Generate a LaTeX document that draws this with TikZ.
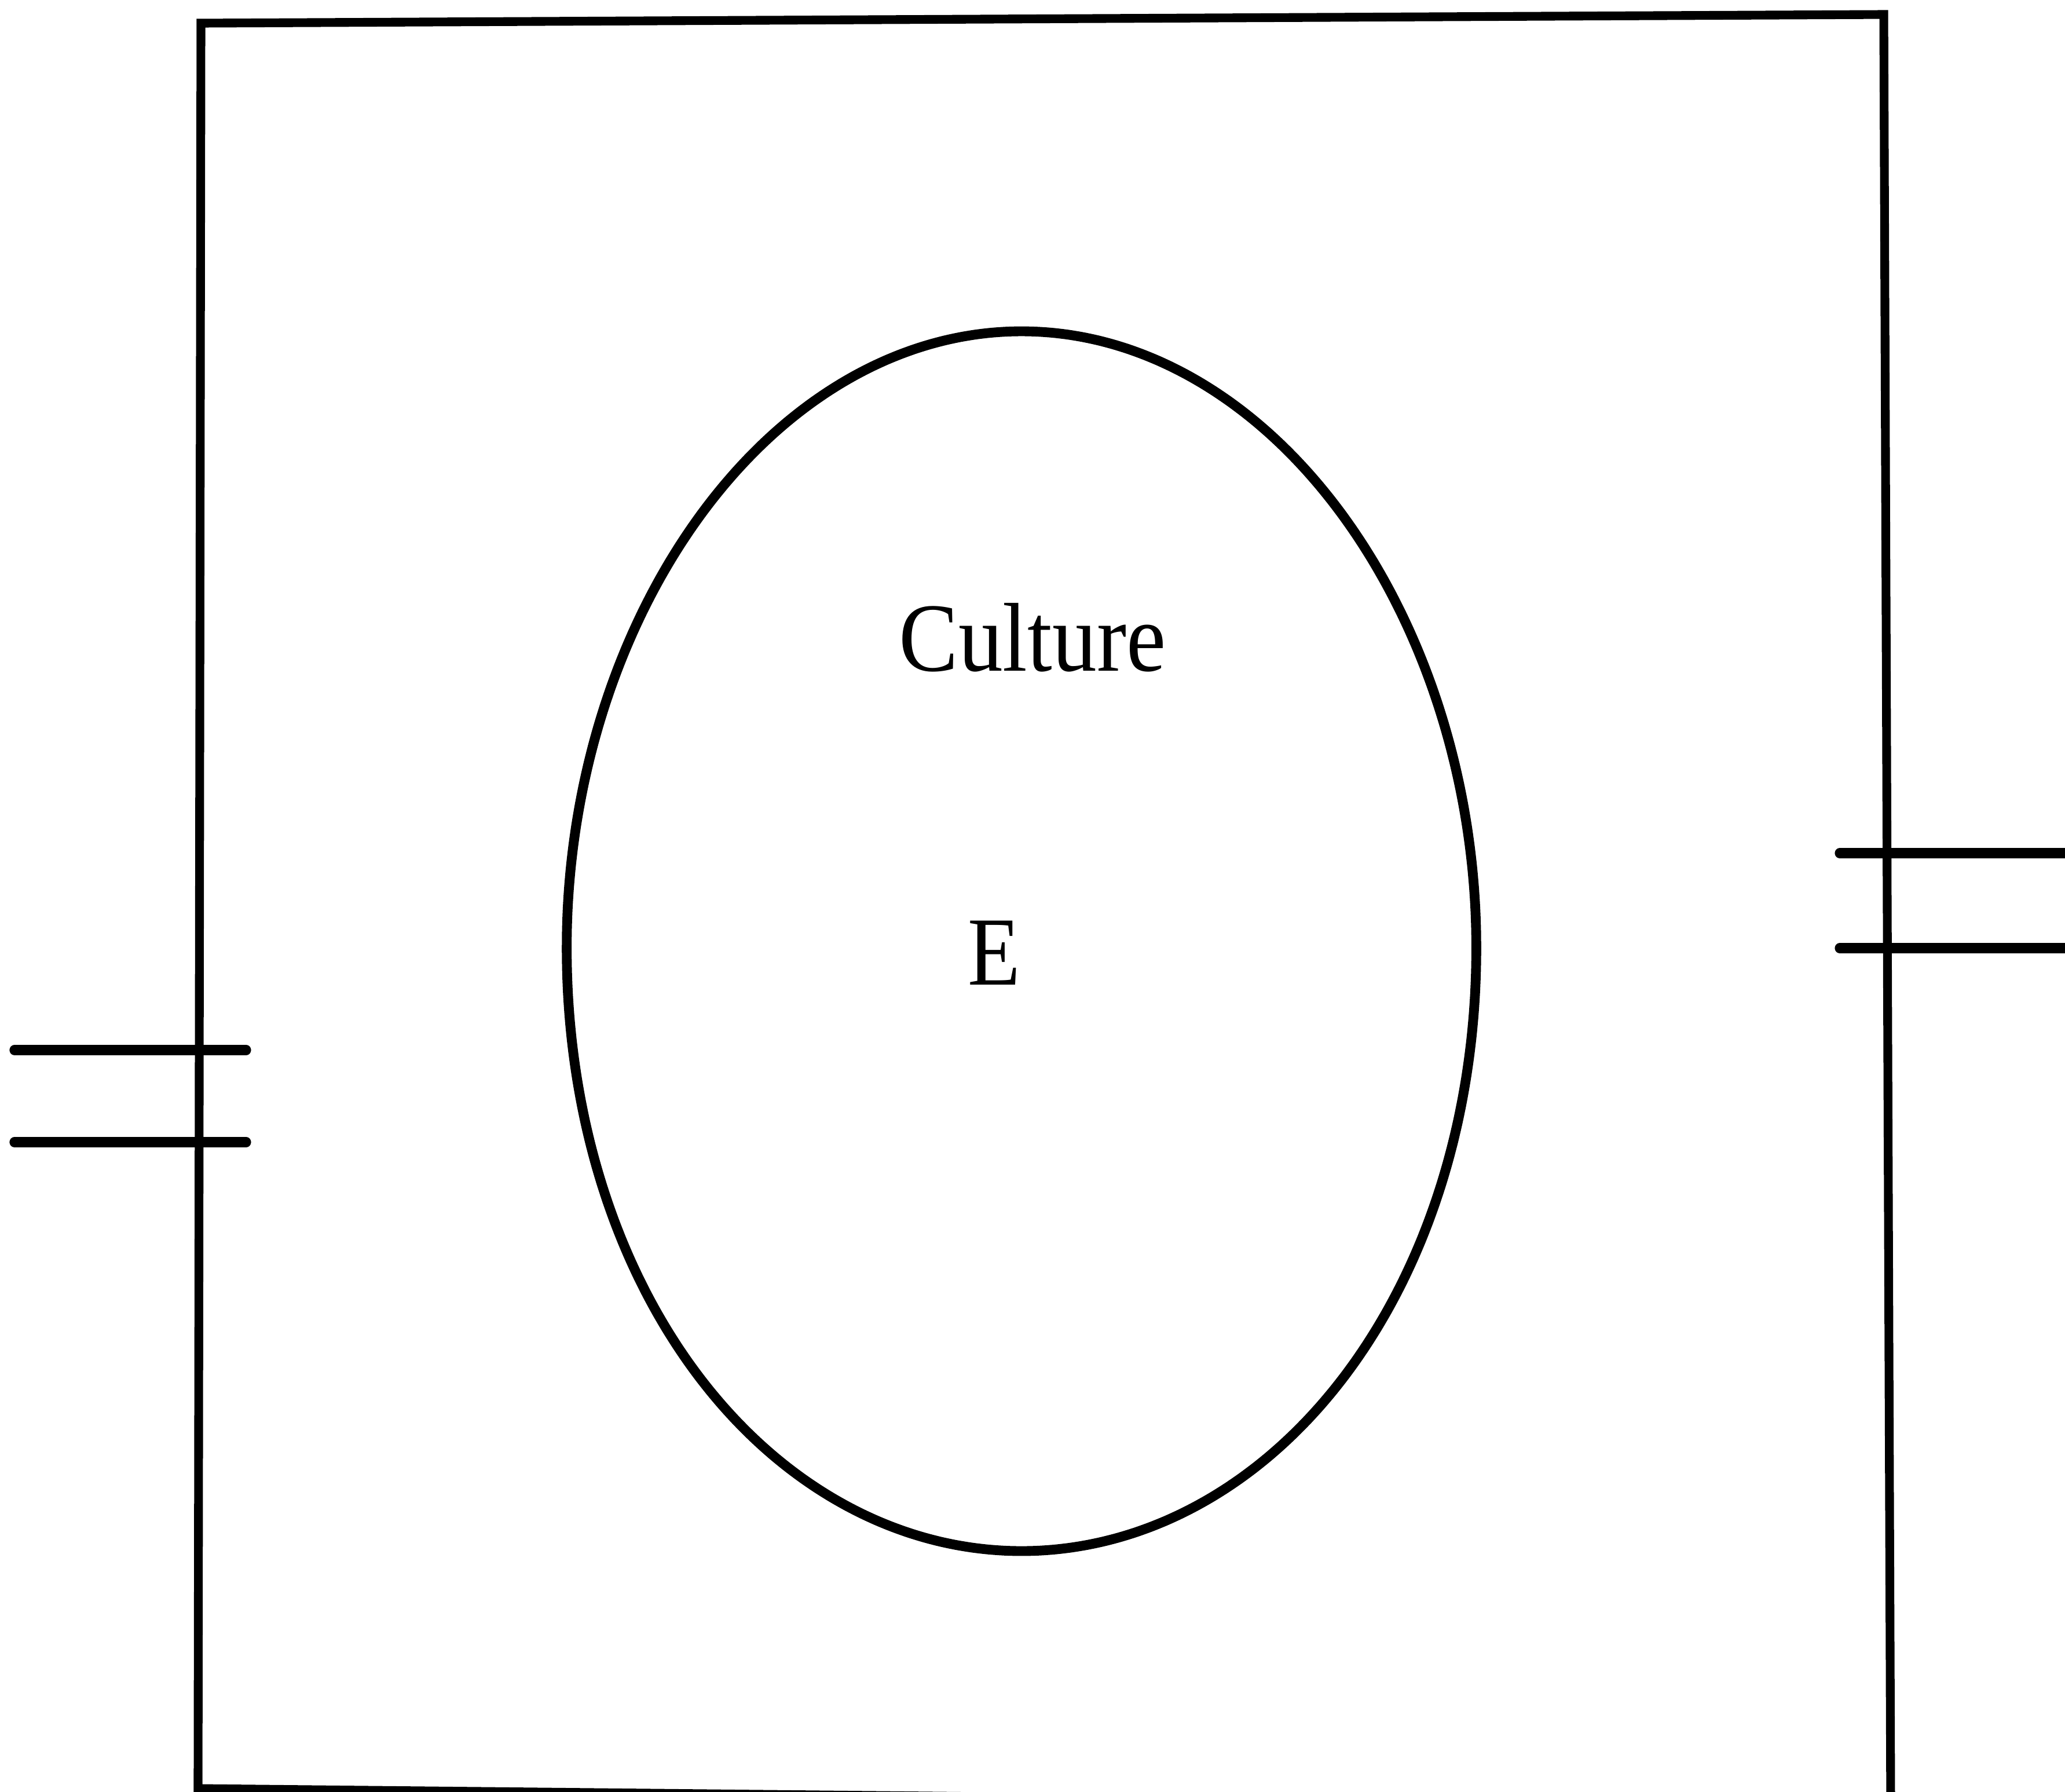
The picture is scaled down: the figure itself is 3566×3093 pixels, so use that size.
\documentclass[tikz,border=0pt]{standalone}
\usepackage{fontspec}
\setmainfont{Liberation Serif}
\begin{document}
\begin{tikzpicture}[x=0.01cm,y=-0.01cm,
  frame/.style={draw=black,line width=4.3pt,line join=miter},
  stub/.style={draw=black,line width=4.9pt,line cap=round},
  egg/.style={draw=black,line width=4.8pt},
  lbl/.style={anchor=base,inner sep=0pt,font=\fontsize{48}{56}\selectfont}]
\useasboundingbox (0,0) rectangle (3566,3093);
% outer frame
\coordinate (tl) at (347,40);
\coordinate (tr) at (3253,25);
\coordinate (br) at (3265,3118);
\coordinate (bl) at (342,3088);
\draw[frame] (tl) -- (tr) -- (br) -- (bl) -- cycle;
% egg-shaped outline
\coordinate (eggc) at (1764,1605);
\draw[egg] plot[domain=0:358,samples=180,smooth cycle,variable=\t]
  ({1764+785*cos(\t)*(1-0.03*sin(\t))},{1605-((\t<180)*1033+(\t>=180)*1073)*sin(\t)});
% labels
\node[lbl] (culture) at (1783,1158) {\scalebox{0.91}[1]{Culture}};
\node[lbl] (e) at (1717,1700) {\scalebox{0.88}[1]{E}};
% left stubs
\coordinate (l1a) at (25,1813);
\coordinate (l1b) at (425,1813);
\coordinate (l2a) at (25,1972);
\coordinate (l2b) at (425,1972);
\draw[stub] (l1a) -- (l1b);
\draw[stub] (l2a) -- (l2b);
% right stubs
\coordinate (r1a) at (3177,1473);
\coordinate (r1b) at (3600,1473);
\coordinate (r2a) at (3177,1637);
\coordinate (r2b) at (3600,1637);
\draw[stub] (r1a) -- (r1b);
\draw[stub] (r2a) -- (r2b);
\end{tikzpicture}
\end{document}
